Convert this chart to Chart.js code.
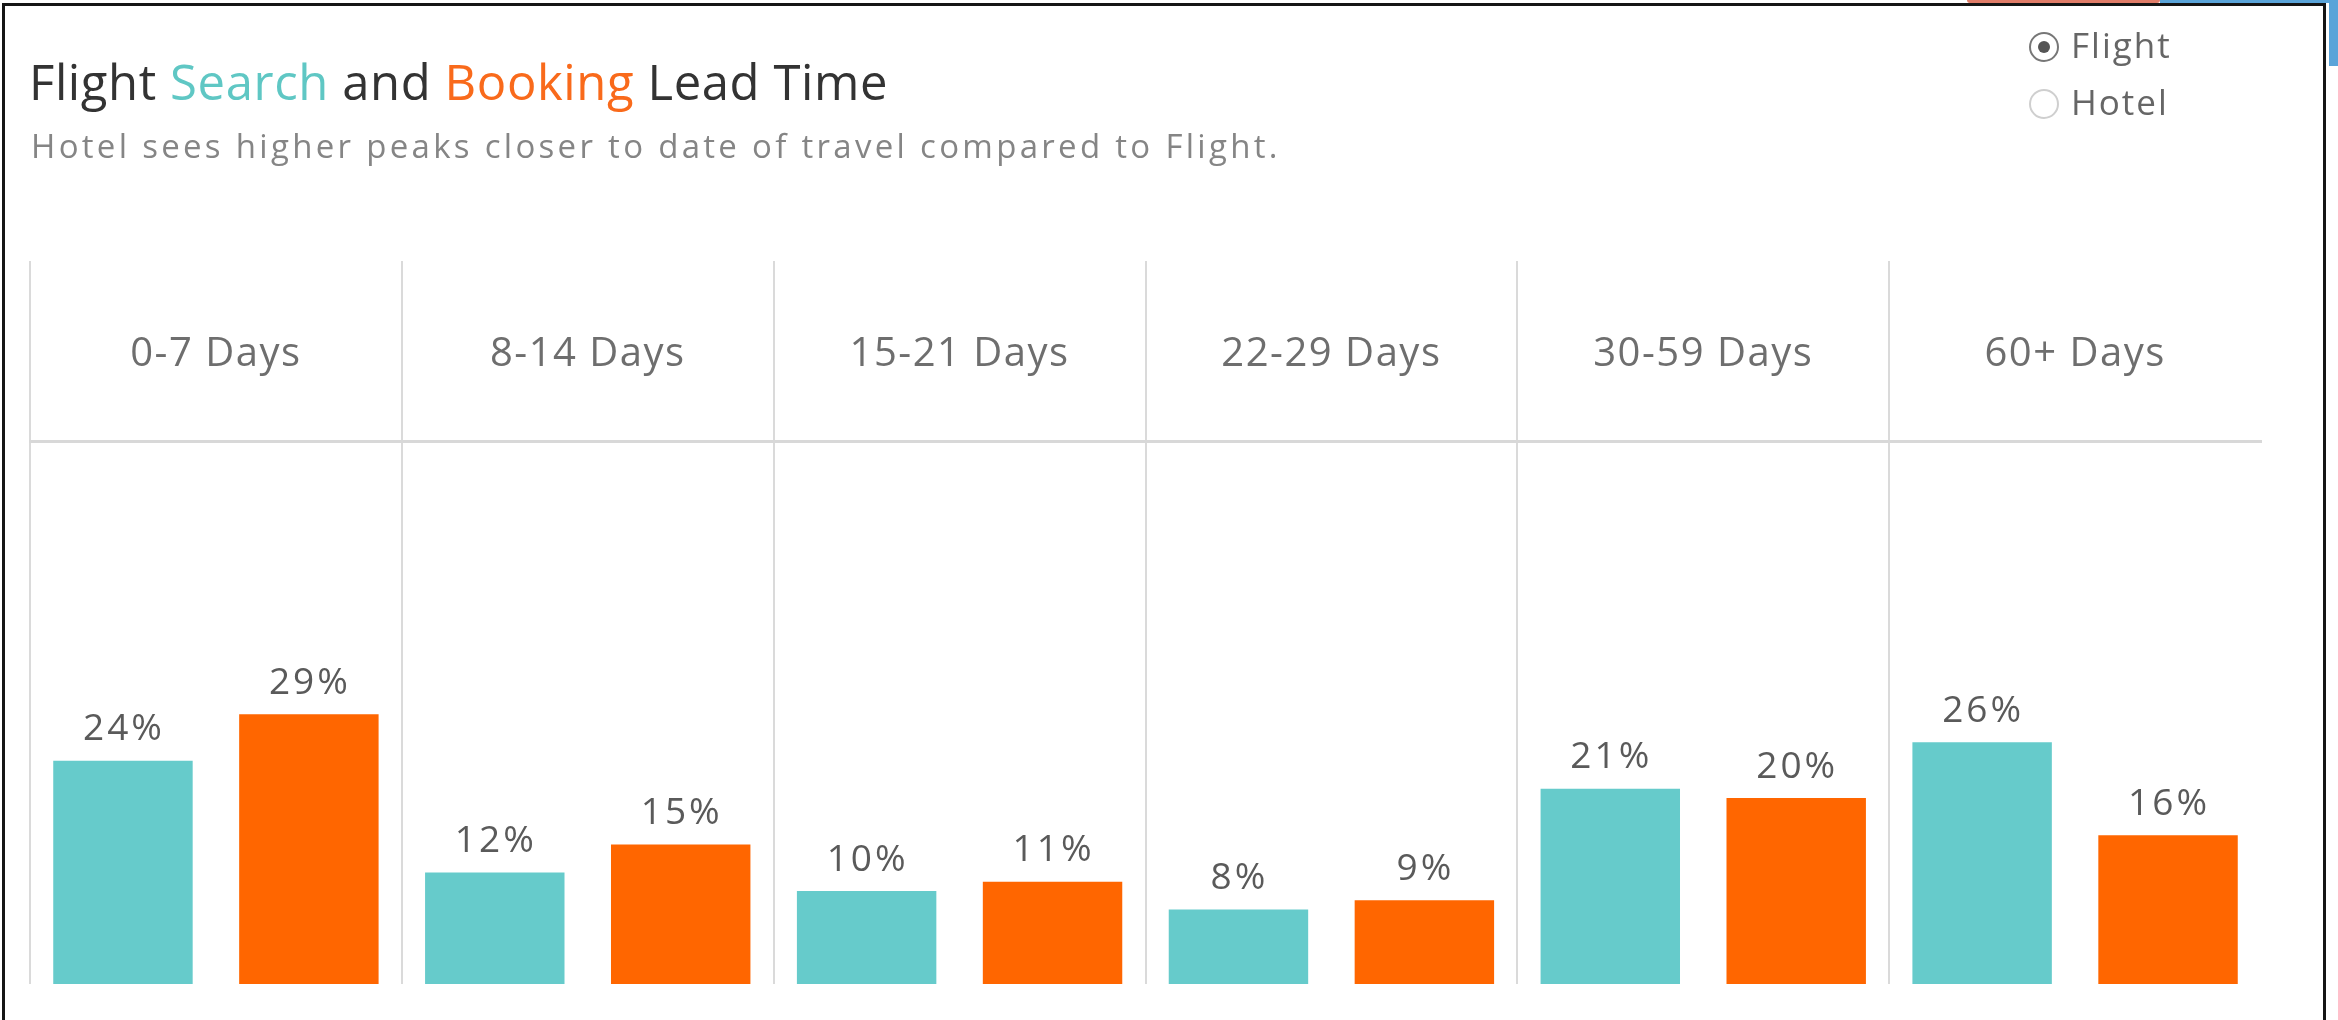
<!DOCTYPE html>
<html>
<head>
<meta charset="utf-8">
<script src="https://cdn.jsdelivr.net/npm/chart.js@4"></script>
<style>
  html, body { margin: 0; padding: 0; background: #fff; overflow: hidden; }
  body { width: 2338px; height: 1020px; position: relative; font-family: 'Open Sans', sans-serif; }
  #wrap { position: absolute; left: 0; top: 0; width: 2338px; height: 1020px; }
  .frame { position: absolute; left: 2px; top: 3px; width: 2324px; height: 1040px; border: 3px solid #151515; box-sizing: border-box; pointer-events: none; }
  .tab-orange { position: absolute; left: 1967px; top: 0; width: 193px; height: 3px; background: #e07c68; border-radius: 0 0 6px 6px; }
  .tab-blue { position: absolute; left: 2160px; top: 0; width: 178px; height: 3px; background: #5aa4d9; }
  .tab-blue-side { position: absolute; left: 2329px; top: 0; width: 9px; height: 66px; background: #5aa4d9; }
  .title { position: absolute; left: 29px; top: 57px; font-size: 49px; line-height: 49px; letter-spacing: 0.6px; color: #333; white-space: nowrap; }
  .title .search { color: #5fc7c4; }
  .title .booking { color: #f96a1b; }
  .subtitle { position: absolute; left: 31px; top: 129px; font-size: 33px; line-height: 33px; letter-spacing: 3.3px; color: #858585; white-space: nowrap; }
  .radio { position: absolute; left: 2029px; font-size: 35px; line-height: 35px; letter-spacing: 2px; color: #666; white-space: nowrap; }
  .radio .dot { display: inline-block; width: 26px; height: 26px; border: 2px solid #777; border-radius: 50%; vertical-align: -4px; margin-right: 12px; position: relative; }
  .radio.on .dot::after { content: ''; position: absolute; left: 7px; top: 7px; width: 12px; height: 12px; border-radius: 50%; background: #555; }
  .radio.off .dot { border-color: #cfcfcf; }
</style>
</head>
<body>
<div id="wrap"><canvas id="leadTimeChart"></canvas></div>
<div class="title">Flight <span class="search">Search</span> and <span class="booking">Booking</span> Lead Time</div>
<div class="subtitle">Hotel sees higher peaks closer to date of travel compared to Flight.</div>
<div class="radio on" style="top:27px"><span class="dot"></span>Flight</div>
<div class="radio off" style="top:84px"><span class="dot"></span>Hotel</div>
<div class="frame"></div>
<div class="tab-orange"></div>
<div class="tab-blue"></div>
<div class="tab-blue-side"></div>
<script>
const categories = ['0-7 Days', '8-14 Days', '15-21 Days', '22-29 Days', '30-59 Days', '60+ Days'];
const searchValues = [24, 12, 10, 8, 21, 26];
const bookingValues = [29, 15, 11, 9, 20, 16];

Chart.defaults.font.family = "'Open Sans', sans-serif";

// wider letter spacing like the original dashboard text
const spacing = {
    id: 'spacing',
    beforeDraw(chart) {
        chart.ctx.letterSpacing = '1.5px';
    }
};

// percent labels over the bars
const valueLabels = {
    id: 'valueLabels',
    afterDatasetsDraw(chart) {
        const c = chart.ctx;
        c.save();
        c.font = "37px 'Open Sans', sans-serif";
        c.letterSpacing = '3px';
        c.fillStyle = '#5a5a5a';
        c.textAlign = 'center';
        c.textBaseline = 'middle';
        chart.data.datasets.forEach((ds, i) => {
            chart.getDatasetMeta(i).data.forEach((bar, j) => {
                c.fillText(ds.data[j] + '%', bar.x + 1, bar.y - 31);
            });
        });
        c.restore();
    }
};

const ctx = document.getElementById('leadTimeChart');
new Chart(ctx, {
    type: 'bar',
    data: {
        labels: categories,
        datasets: [{
            label: 'Search',
            data: searchValues,
            backgroundColor: '#66cbcb'
        }, {
            label: 'Booking',
            data: bookingValues,
            backgroundColor: '#ff6600'
        }]
    },
    options: {
        responsive: true,
        maintainAspectRatio: false,
        animation: false,
        events: [],
        categoryPercentage: 1.0,
        barPercentage: 0.75,
        layout: { padding: { left: 30, right: 77, top: 261, bottom: 36 } },
        plugins: {
            legend: { display: false },
            tooltip: { enabled: false }
        },
        scales: {
            x: {
                position: 'top',
                afterFit: (scale) => { scale.height = 180; },
                grid: {
                    offset: true,
                    drawTicks: true,
                    tickLength: 180,
                    lineWidth: 2,
                    color: (c) => c.index === undefined ? 'rgba(0,0,0,0)' : '#dadada'
                },
                border: { display: true, color: '#d8d8d8', width: 3 },
                ticks: {
                    padding: -118,
                    color: '#6e6e6e',
                    font: { size: 40 }
                }
            },
            y: {
                display: false,
                min: 0,
                max: 58.4
            }
        }
    },
    plugins: [spacing, valueLabels]
});
</script>
</body>
</html>
